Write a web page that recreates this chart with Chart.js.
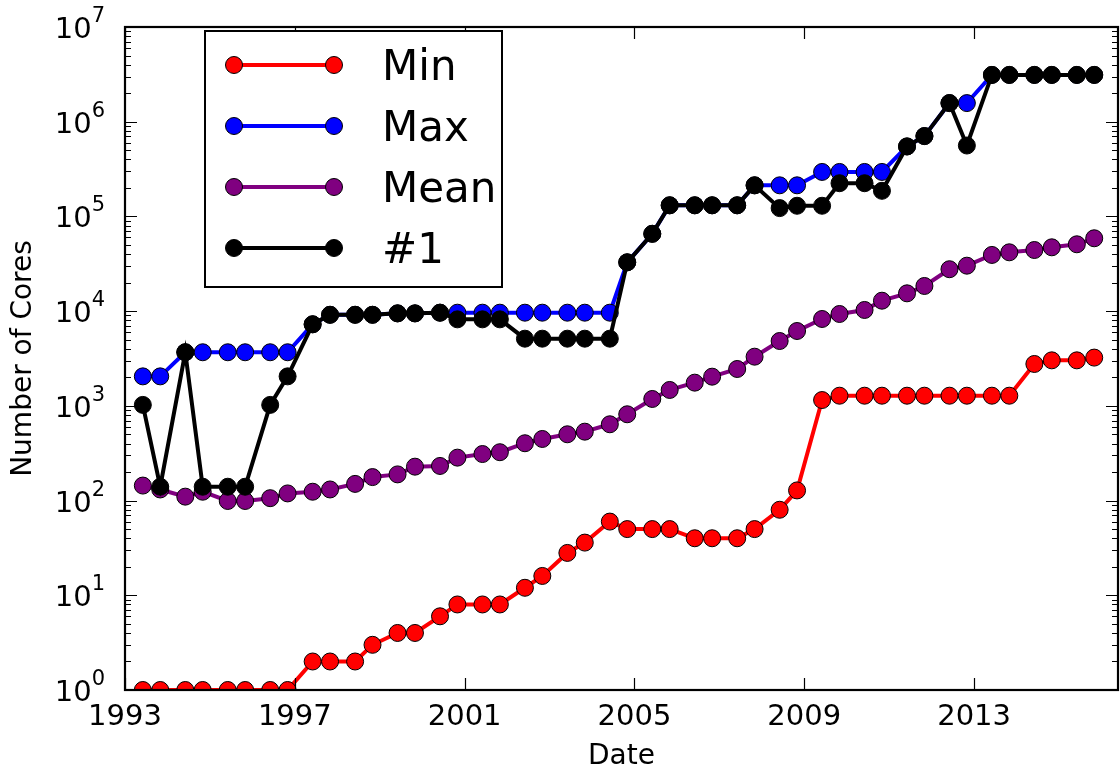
<!DOCTYPE html>
<html>
<head>
<meta charset="utf-8">
<script src="https://cdn.jsdelivr.net/npm/chart.js@4.4.1/dist/chart.umd.min.js"></script>
<style>
    html, body { margin: 0; padding: 0; background: #ffffff; }
    #wrap { width: 1120px; height: 772px; }
</style>
</head>
<body>
<div id="wrap"><canvas id="coresChart" width="1120" height="772"></canvas></div>
<script>
// list dates (June / November of each year)
const listDates = [
    1993.42, 1993.83, 1994.42, 1994.83, 1995.42, 1995.83, 1996.42, 1996.83,
    1997.42, 1997.83, 1998.42, 1998.83, 1999.42, 1999.83, 2000.42, 2000.83,
    2001.42, 2001.83, 2002.42, 2002.83, 2003.42, 2003.83, 2004.42, 2004.83,
    2005.42, 2005.83, 2006.42, 2006.83, 2007.42, 2007.83, 2008.42, 2008.83,
    2009.42, 2009.83, 2010.42, 2010.83, 2011.42, 2011.83, 2012.42, 2012.83,
    2013.42, 2013.83, 2014.42, 2014.83, 2015.42, 2015.83
];
const minCores = [
    1, 1, 1, 1, 1, 1, 1, 1,
    2, 2, 2, 3, 4, 4, 6, 8,
    8, 8, 12, 16, 28, 36, 60, 50,
    50, 50, 40, 40, 40, 50, 80, 128,
    1152, 1280, 1280, 1280, 1280, 1280, 1280, 1280,
    1280, 1280, 2768, 3024, 3024, 3232
];
const maxCores = [
    2048, 2048, 3680, 3680, 3680, 3680, 3680, 3680,
    7264, 9152, 9152, 9152, 9472, 9472, 9632, 9632,
    9632, 9632, 9632, 9632, 9632, 9632, 9632, 32768,
    65536, 131072, 131072, 131072, 131072, 212992, 212992, 212992,
    294912, 294912, 294912, 294912, 548352, 705024, 1572864, 1572864,
    3120000, 3120000, 3120000, 3120000, 3120000, 3120000
];
const meanCores = [
    144, 131, 110, 124, 99, 99, 106, 119,
    124, 131, 150, 177, 189, 228, 232, 284,
    310, 324, 403, 447, 501, 534, 639, 815,
    1182, 1472, 1758, 2033, 2450, 3305, 4838, 6170,
    8263, 9330, 10290, 12890, 15420, 18440, 27700, 30200,
    39200, 41800, 44200, 47200, 50800, 58800
];
const topCores = [
    1024, 140, 3680, 140, 140, 140, 1024, 2048,
    7264, 9152, 9152, 9152, 9472, 9472, 9632, 8192,
    8192, 8192, 5120, 5120, 5120, 5120, 5120, 32768,
    65536, 131072, 131072, 131072, 131072, 212992, 122400, 129600,
    129600, 224162, 224162, 186368, 548352, 705024, 1572864, 560640,
    3120000, 3120000, 3120000, 3120000, 3120000, 3120000
];
const yearTicks = [1993, 1997, 2001, 2005, 2009, 2013];
const decadeTicks = [1, 10, 100, 1000, 10000, 100000, 1000000, 10000000];
const seriesNames = ['Min', 'Max', 'Mean', '#1'];
const seriesColors = ['#ff0000', '#0000ff', '#800080', '#000000'];

const FONT = '"DejaVu Sans", "Liberation Sans", sans-serif';
Chart.defaults.font.family = FONT;
Chart.defaults.color = '#000000';

function toPoints(values) {
    return values.map(function (v, i) { return { x: listDates[i], y: v }; });
}

function makeDataset(idx, values) {
    return {
        label: seriesNames[idx],
        data: toPoints(values),
        borderColor: seriesColors[idx],
        backgroundColor: seriesColors[idx],
        borderWidth: 4,
        pointRadius: 8.5,
        pointHoverRadius: 8.5,
        pointBorderWidth: 1,
        pointBorderColor: '#000000',
        pointBackgroundColor: seriesColors[idx],
        tension: 0,
        clip: 0,
        order: 3 - idx
    };
}

// matplotlib-like frame: spines, inward ticks, 10^n labels, legend
const mplFrame = {
    id: 'mplFrame',
    afterDatasetsDraw: function (chart) {
        const ctx = chart.ctx;
        const area = chart.chartArea;
        const xs = chart.scales.x;
        const ys = chart.scales.y;
        ctx.save();
        ctx.strokeStyle = '#000';
        ctx.lineWidth = 1.2;
        ctx.beginPath();
        yearTicks.forEach(function (t) {
            const px = Math.round(xs.getPixelForValue(t)) + 0.5;
            ctx.moveTo(px, area.bottom); ctx.lineTo(px, area.bottom - 12);
            ctx.moveTo(px, area.top); ctx.lineTo(px, area.top + 12);
        });
        decadeTicks.forEach(function (t, k) {
            const py = Math.round(ys.getPixelForValue(t)) + 0.5;
            ctx.moveTo(area.left, py); ctx.lineTo(area.left + 12, py);
            ctx.moveTo(area.right, py); ctx.lineTo(area.right - 12, py);
            if (k < decadeTicks.length - 1) {
                for (let m = 2; m <= 9; m++) {
                    const my = Math.round(ys.getPixelForValue(t * m)) + 0.5;
                    ctx.moveTo(area.left, my); ctx.lineTo(area.left + 6, my);
                    ctx.moveTo(area.right, my); ctx.lineTo(area.right - 6, my);
                }
            }
        });
        ctx.stroke();

        ctx.lineWidth = 2.2;
        ctx.strokeRect(area.left, area.top, area.right - area.left, area.bottom - area.top);

        // y tick labels as 10 with superscript exponent
        ctx.fillStyle = '#000';
        ctx.textBaseline = 'alphabetic';
        ctx.textAlign = 'left';
        decadeTicks.forEach(function (t) {
            const py = ys.getPixelForValue(t);
            const exp = String(Math.round(Math.log10(t)));
            ctx.font = '21px ' + FONT;
            const ew = ctx.measureText(exp).width;
            ctx.font = '29px ' + FONT;
            const bw = ctx.measureText('10').width;
            const right = area.left - 20;
            ctx.fillText('10', right - ew - bw, py + 11);
            ctx.font = '21px ' + FONT;
            ctx.fillText(exp, right - ew, py - 5);
        });
        ctx.restore();
    },
    afterDraw: function (chart) {
        const ctx = chart.ctx;
        const box = { x: 205, y: 31, w: 297, h: 256 };
        ctx.save();
        ctx.fillStyle = '#fff';
        ctx.fillRect(box.x, box.y, box.w, box.h);
        ctx.strokeStyle = '#000';
        ctx.lineWidth = 2;
        ctx.strokeRect(box.x, box.y, box.w, box.h);
        ctx.font = '42px ' + FONT;
        ctx.textBaseline = 'alphabetic';
        ctx.textAlign = 'left';
        seriesNames.forEach(function (name, i) {
            const cy = box.y + 34 + i * 61;
            const x0 = box.x + 29;
            const x1 = box.x + 129;
            ctx.strokeStyle = seriesColors[i];
            ctx.lineWidth = 4;
            ctx.beginPath();
            ctx.moveTo(x0, cy); ctx.lineTo(x1, cy);
            ctx.stroke();
            [x0, x1].forEach(function (cx) {
                ctx.beginPath();
                ctx.arc(cx, cy, 8.5, 0, Math.PI * 2);
                ctx.fillStyle = seriesColors[i];
                ctx.fill();
                ctx.lineWidth = 1;
                ctx.strokeStyle = '#000';
                ctx.stroke();
            });
            ctx.fillStyle = '#000';
            ctx.fillText(name, box.x + 177, cy + 15);
        });
        ctx.restore();
    }
};

new Chart(document.getElementById('coresChart').getContext('2d'), {
    type: 'line',
    data: {
        datasets: [
            makeDataset(0, minCores),
            makeDataset(1, maxCores),
            makeDataset(2, meanCores),
            makeDataset(3, topCores)
        ]
    },
    options: {
        responsive: false,
        animation: false,
        devicePixelRatio: 1,
        layout: { autoPadding: false, padding: { top: 27, right: 2, left: 0, bottom: 0 } },
        plugins: {
            legend: { display: false },
            tooltip: { enabled: false }
        },
        scales: {
            x: {
                type: 'linear',
                min: 1993,
                max: 2016.39,
                grid: { display: false, drawTicks: false },
                border: { display: false },
                afterBuildTicks: function (scale) {
                    scale.ticks = yearTicks.map(function (v) { return { value: v }; });
                },
                afterFit: function (scale) { scale.height = 82; },
                ticks: {
                    autoSkip: false,
                    maxRotation: 0,
                    padding: 10,
                    font: { size: 29 },
                    color: '#000',
                    callback: function (v) { return String(v); }
                },
                title: {
                    display: true,
                    text: 'Date',
                    font: { size: 28, lineHeight: 1 },
                    color: '#000',
                    padding: { top: 0, bottom: 1 }
                }
            },
            y: {
                type: 'logarithmic',
                min: 1,
                max: 10000000,
                grid: { display: false, drawTicks: false },
                border: { display: false },
                afterBuildTicks: function (scale) {
                    scale.ticks = decadeTicks.map(function (v) { return { value: v }; });
                },
                afterFit: function (scale) { scale.width = 125; },
                ticks: { display: false },
                title: {
                    display: true,
                    text: 'Number of Cores',
                    font: { size: 28, lineHeight: 1 },
                    color: '#000',
                    padding: { top: 10, bottom: 0 }
                }
            }
        }
    },
    plugins: [mplFrame]
});
</script>
</body>
</html>
